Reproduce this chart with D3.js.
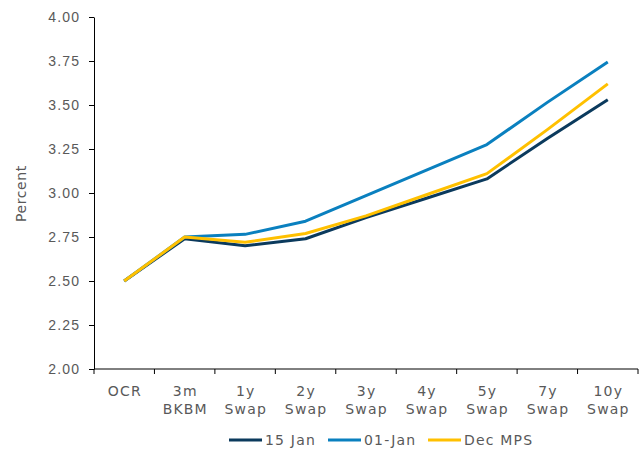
<!DOCTYPE html>
<html>
<head>
<meta charset="utf-8">
<script src="https://cdn.jsdelivr.net/npm/d3@7/dist/d3.min.js"></script>
<style>
  html, body { margin: 0; padding: 0; background: #fff; }
  svg { display: block; font-family: "DejaVu Sans", Verdana, sans-serif; }
  svg text { letter-spacing: 1.2px; }
  .axis text { fill: #595959; font-size: 14px; }
  .axis path, .axis line { stroke: #000; }
</style>
</head>
<body>
<svg id="chart" width="641" height="450"></svg>
<script>
// Tenors along the curve (two-line labels split on "\n")
const categories = ["OCR", "3m\nBKBM", "1y\nSwap", "2y\nSwap", "3y\nSwap", "4y\nSwap", "5y\nSwap", "7y\nSwap", "10y\nSwap"];

// Yields in percent for each date
const jan15  = [2.50, 2.74, 2.70, 2.74, 2.86, 2.97, 3.08, 3.31, 3.53];
const jan01  = [2.50, 2.75, 2.765, 2.84, 2.985, 3.13, 3.275, 3.515, 3.745];
const decMPS = [2.50, 2.75, 2.72, 2.77, 2.87, 2.99, 3.11, 3.36, 3.62];

const yTicks = [2.00, 2.25, 2.50, 2.75, 3.00, 3.25, 3.50, 3.75, 4.00];

const seriesNames = ["15 Jan", "01-Jan", "Dec MPS"];
const seriesColors = ["#0b3a5d", "#0a80bf", "#ffc000"];

const series = [
  { name: seriesNames[0], values: jan15,  color: seriesColors[0] },
  { name: seriesNames[1], values: jan01,  color: seriesColors[1] },
  { name: seriesNames[2], values: decMPS, color: seriesColors[2] }
];

const svg = d3.select("#chart");
const margin = { left: 94, right: 3, top: 17, bottom: 81 };
const W = 641, H = 450;
const ls = 1.2; // trailing letter-spacing, compensated when aligning

const x = d3.scaleBand()
  .domain(categories)
  .range([margin.left, W - margin.right])
  .paddingInner(0).paddingOuter(0);

const y = d3.scaleLinear()
  .domain([2, 4])
  .range([H - margin.bottom, margin.top]);

// Y axis
const yAxis = svg.append("g")
  .attr("class", "axis")
  .attr("transform", `translate(${margin.left},0)`)
  .call(d3.axisLeft(y).tickValues(yTicks).tickFormat(d3.format(".2f")).tickSize(5).tickPadding(10 - ls).tickSizeOuter(0));
yAxis.selectAll("text").attr("dy", "0.35em");
yAxis.selectAll(".tick line").attr("stroke", "#595959");

// X axis with ticks on category boundaries
const xAxis = svg.append("g")
  .attr("class", "axis")
  .attr("transform", `translate(0,${y(2)})`);
xAxis.append("line")
  .attr("x1", margin.left).attr("x2", W - margin.right)
  .attr("y1", 0).attr("y2", 0)
  .attr("stroke", "#000");
const boundaries = categories.map(c => x(c)).concat([x(categories[categories.length - 1]) + x.bandwidth()]);
xAxis.selectAll(".bt")
  .data(boundaries)
  .join("line")
  .attr("x1", d => d).attr("x2", d => d)
  .attr("y1", 0).attr("y2", 5)
  .attr("stroke", "#bfbfbf");
const xl = xAxis.selectAll(".xl")
  .data(categories)
  .join("text")
  .attr("text-anchor", "middle");
xl.each(function(d) {
  const cx = x(d) + x.bandwidth() / 2 + ls / 2;
  d3.select(this).selectAll("tspan")
    .data(d.split("\n"))
    .join("tspan")
    .attr("x", cx)
    .attr("y", (l, i) => 27 + i * 18)
    .text(l => l);
});

// Y axis title
svg.append("text")
  .attr("transform", `translate(26,${(y(2) + y(4)) / 2 + ls / 2}) rotate(-90)`)
  .attr("text-anchor", "middle")
  .attr("fill", "#595959")
  .attr("font-size", 14)
  .style("letter-spacing", "0.6px")
  .text("Percent");

// Lines
const line = d3.line()
  .x((v, i) => x(categories[i]) + x.bandwidth() / 2)
  .y(v => y(v));

svg.selectAll(".series")
  .data(series)
  .join("path")
  .attr("fill", "none")
  .attr("stroke", d => d.color)
  .attr("stroke-width", 3)
  .attr("stroke-linejoin", "round")
  .attr("d", d => line(d.values));

// Legend
const legendX = [229, 328, 428];
const lg = svg.append("g").attr("transform", "translate(0,440)");
series.forEach((s, i) => {
  lg.append("line")
    .attr("x1", legendX[i]).attr("x2", legendX[i] + 33)
    .attr("y1", 0).attr("y2", 0)
    .attr("stroke", s.color).attr("stroke-width", 3);
  lg.append("text")
    .attr("x", legendX[i] + 36)
    .attr("y", 0).attr("dy", "0.35em")
    .attr("fill", "#595959")
    .attr("font-size", 14)
    .text(s.name);
});
</script>
</body>
</html>
